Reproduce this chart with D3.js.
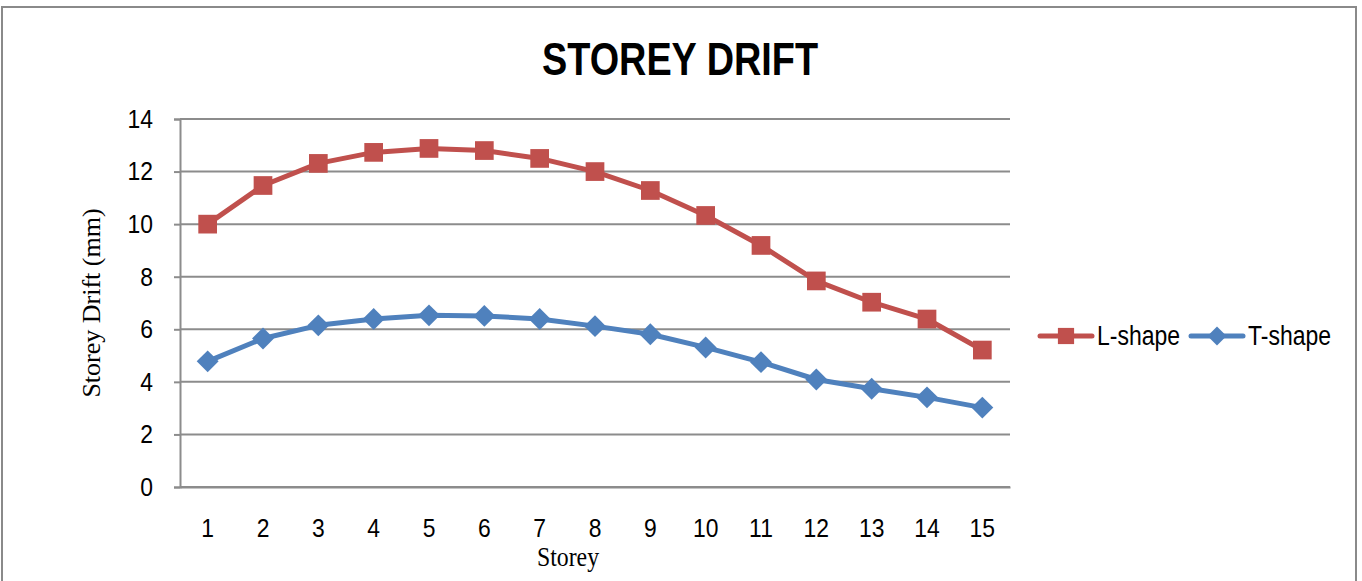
<!DOCTYPE html>
<html>
<head>
<meta charset="utf-8">
<script src="https://cdn.jsdelivr.net/npm/d3@7"></script>
<style>
  body { margin: 0; background: #fff; }
  .narrow { font-family: "Liberation Sans Narrow", "Arial Narrow", "Liberation Sans", sans-serif; }
  .serif { font-family: "Liberation Serif", "Times New Roman", serif; }
</style>
</head>
<body>
<div class="chart"></div>
<script>
var storeys = [1, 2, 3, 4, 5, 6, 7, 8, 9, 10, 11, 12, 13, 14, 15];
var lShape = [10.0, 11.47, 12.31, 12.73, 12.88, 12.8, 12.5, 12.0, 11.28, 10.33, 9.19, 7.84, 7.03, 6.39, 5.21];
var tShape = [4.78, 5.65, 6.15, 6.39, 6.53, 6.51, 6.39, 6.12, 5.81, 5.31, 4.75, 4.09, 3.74, 3.41, 3.02];
var yTicks = [0, 2, 4, 6, 8, 10, 12, 14];

var W = 1362, H = 581;
var margin = { top: 119, left: 180, right: 352, bottom: 94 };
var width = W - margin.left - margin.right;
var height = H - margin.top - margin.bottom;

// squeeze text horizontally (no narrow font installed)
function narrow(sel, k) {
    sel.each(function() {
        var len = this.getComputedTextLength();
        d3.select(this)
            .attr('textLength', len * k)
            .attr('lengthAdjust', 'spacingAndGlyphs');
    });
}

var svgRoot = d3.select('.chart')
    .append('svg')
    .attr('width', W)
    .attr('height', H);

// chart frame
svgRoot.append('rect')
    .attr('x', 2).attr('y', 7)
    .attr('width', 1354).attr('height', 590)
    .attr('fill', 'none')
    .attr('stroke', '#8a8a8a')
    .attr('stroke-width', 2);

svgRoot.append('text')
    .attr('class', 'narrow')
    .attr('x', 680).attr('y', 75)
    .attr('text-anchor', 'middle')
    .attr('font-size', 46)
    .attr('font-weight', 'bold')
    .attr('textLength', 276)
    .attr('lengthAdjust', 'spacingAndGlyphs')
    .text('STOREY DRIFT');

var svg = svgRoot.append('g')
    .attr('transform', 'translate(' + margin.left + ',' + margin.top + ')');

var xScale = d3.scaleBand()
    .domain(storeys)
    .range([0, width]);

var yScale = d3.scaleLinear()
    .domain([0, 14])
    .range([height, 0]);

// gridlines
svg.append('g')
    .selectAll('line')
    .data(yTicks)
    .join('line')
    .attr('x1', 0).attr('x2', width)
    .attr('y1', d => yScale(d)).attr('y2', d => yScale(d))
    .attr('stroke', '#8c8c8c')
    .attr('stroke-width', 2);

// y axis
var yAxis = svg.append('g')
    .call(d3.axisLeft(yScale).tickValues(yTicks).tickSize(6).tickPadding(21));
yAxis.select('.domain').attr('stroke', '#8c8c8c').attr('stroke-width', 2);
yAxis.selectAll('.tick line').attr('stroke', '#8c8c8c').attr('stroke-width', 2);
yAxis.selectAll('text')
    .attr('class', 'narrow')
    .attr('font-size', 26)
    .attr('fill', '#000')
    .call(narrow, 0.88);

// x axis
var xAxis = svg.append('g')
    .attr('transform', 'translate(0,' + height + ')')
    .call(d3.axisBottom(xScale).tickSize(0).tickPadding(32));
xAxis.select('.domain').attr('stroke', '#8c8c8c').attr('stroke-width', 2);
xAxis.selectAll('text')
    .attr('class', 'narrow')
    .attr('font-size', 26)
    .attr('fill', '#000')
    .call(narrow, 0.88);

// axis titles
svg.append('text')
    .attr('class', 'serif')
    .attr('transform', 'translate(' + (-80) + ',' + (height / 2) + ') rotate(-90)')
    .attr('text-anchor', 'middle')
    .attr('font-size', 26)
    .text('Storey Drift (mm)');

svg.append('text')
    .attr('class', 'serif')
    .attr('x', xScale(8) + xScale.bandwidth() / 2 - 27)
    .attr('y', height + 79)
    .attr('text-anchor', 'middle')
    .attr('font-size', 28)
    .text('Storey')
    .call(narrow, 0.85);

var series = [
    { name: 'L-shape', values: lShape, color: '#C0504D', rotate: 0, size: 350 },
    { name: 'T-shape', values: tShape, color: '#4F81BD', rotate: 45, size: 240 }
];

var line = d3.line()
    .x((d, i) => xScale(storeys[i]) + xScale.bandwidth() / 2)
    .y(d => yScale(d));

series.forEach(function(s) {
    svg.append('path')
        .attr('d', line(s.values))
        .attr('fill', 'none')
        .attr('stroke', s.color)
        .attr('stroke-width', 5)
        .attr('stroke-linejoin', 'round');
    svg.append('g')
        .selectAll('path')
        .data(s.values)
        .join('path')
        .attr('transform', (d, i) => 'translate(' + (xScale(storeys[i]) + xScale.bandwidth() / 2) + ',' + yScale(d) + ') rotate(' + s.rotate + ')')
        .attr('d', d3.symbol().type(d3.symbolSquare).size(s.size))
        .attr('fill', s.color);
});

// legend
var legend = svgRoot.append('g')
    .attr('transform', 'translate(1040,336)');
var lx = 0;
series.forEach(function(s) {
    var g = legend.append('g').attr('transform', 'translate(' + lx + ',0)');
    g.append('line')
        .attr('x1', 0).attr('x2', 52)
        .attr('stroke', s.color).attr('stroke-width', 5)
        .attr('stroke-linecap', 'round');
    g.append('path')
        .attr('transform', 'translate(26,0) rotate(' + s.rotate + ')')
        .attr('d', d3.symbol().type(d3.symbolSquare).size(s.size * 0.75))
        .attr('fill', s.color);
    var t = g.append('text')
        .attr('class', 'narrow')
        .attr('x', 57).attr('y', 9)
        .attr('font-size', 27)
        .text(s.name);
    var len = t.node().getComputedTextLength();
    t.attr('textLength', 83).attr('lengthAdjust', 'spacingAndGlyphs');
    lx += 57 + 83 + 11;
});
</script>
</body>
</html>
